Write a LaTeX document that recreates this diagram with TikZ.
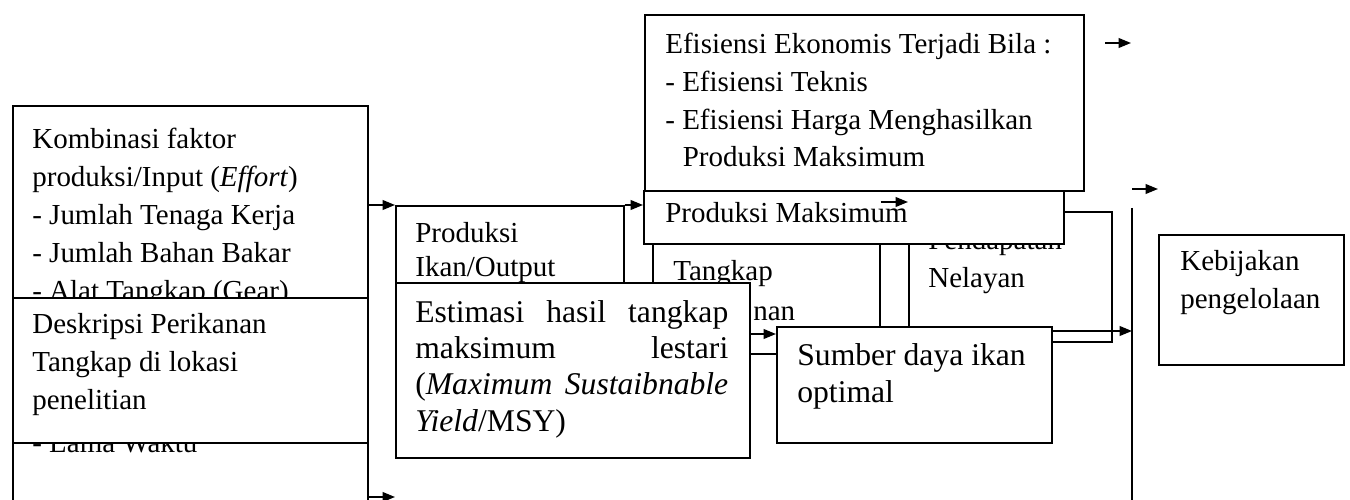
\documentclass[tikz,border=0pt]{standalone}
\usepackage{fontspec}
\setmainfont{Liberation Serif}
\usetikzlibrary{calc}
\usetikzlibrary{arrows.meta}
\tikzset{
	>={Triangle[length=7pt,width=5.5pt]},
	kotak/.style={
		rectangle,
		draw=black, line width=0.9pt,
		fill=white,
		inner sep=0pt,
		anchor=north west},
	teks/.style={
		anchor=base west,
		align=left,
		inner sep=0pt,
		font=\fontsize{16.5}{21.6}\selectfont},
	teksbesar/.style={
		teks,
		font=\fontsize{18}{20.7}\selectfont},
	panah/.style={draw, line width=0.9pt, ->},
	garis/.style={draw, line width=0.9pt},
}
\begin{document}
\begin{tikzpicture}
	[x=0.02cm, y=-0.02cm]
	\useasboundingbox (0,0) rectangle (1350,500);
	\clip (0,0) rectangle (1350,500);
	
	% kolom kiri (teks ditempatkan pada garis dasar baris terakhir)
	\node[kotak, minimum width=7.1cm, minimum height=8.6cm] (A) at (12,105) {};
	\node[teks] (tA) at ($(A.north west)+(20,347)$) {Kombinasi faktor\\produksi/Input (\textit{Effort})\\- Jumlah Tenaga Kerja\\- Jumlah Bahan Bakar\\- Alat Tangkap (Gear)\\[64.8pt]- Lama Waktu};
	\node[kotak, minimum width=7.1cm, minimum height=2.9cm] (B) at (12,297) {};
	\node[teks] (tB) at ($(B.north west)+(20,112)$) {Deskripsi Perikanan\\Tangkap di lokasi\\penelitian};
	
	\coordinate (ujungBawah) at (395,497);
	\draw[panah] (A.east |- ujungBawah) -- (ujungBawah);
	
	% kolom tengah
	\node[kotak, minimum width=4.56cm, minimum height=2cm] (C) at (395,205) {};
	\node[teks, font=\fontsize{16.5}{19.3}\selectfont] (tC) at ($(C.north west)+(20,71)$) {Produksi\\Ikan/Output};
	\draw[panah] (A.east |- C.north west) -- (C.north west);
	
	\node[kotak, minimum width=4.54cm, minimum height=2.84cm] (E) at (652,211) {};
	\node[teks] (tE) at ($(E.north west)+(21,69)$) {Tangkap};
	\node[teks] (tE2) at ($(E.north west)+(101,109)$) {nan};
	\node[kotak, minimum width=4.06cm, minimum height=2.6cm] (F) at (908,211) {};
	\node[teks] (tF) at ($(F.north west)+(20,76)$) {Pendapatan\\Nelayan};
	
	\node[kotak, minimum width=8.4cm, minimum height=1.06cm] (G) at (643,190) {};
	\node[teks] (tG) at ($(G.north west)+(22,32)$) {Produksi Maksimum};
	\node[kotak, minimum width=8.78cm, minimum height=3.52cm] (H) at (644,14) {};
	\node[teks] (tH) at ($(H.north west)+(21,153)$) {Efisiensi Ekonomis Terjadi Bila :\\- Efisiensi Teknis\\- Efisiensi Harga Menghasilkan\\\hspace*{0.6em}Produksi Maksimum};
	
	\draw[panah] (C.north east) -- (C.north east -| G.west);
	\draw[panah] ($(E.north east)+(0,-9)$) -- ($(F.north west)+(0,-9)$);
	
	% teks rata kiri-kanan: garis dasar baris pertama
	\node[kotak, minimum width=7.08cm, minimum height=3.5cm] (D) at (395,282) {};
	\node[teksbesar, text width=6.26cm] (tD) at ($(D.north west)+(20,40)$) {Estimasi\hfill hasil\hfill tangkap\\maksimum\hfill lestari\\(\textit{Maximum}\hfill\textit{Sustaibnable}\\\textit{Yield}/MSY)};
	
	\node[kotak, minimum width=5.5cm, minimum height=2.32cm] (I) at (776,326) {};
	\node[teksbesar] (tI) at ($(I.north west)+(21,76)$) {Sumber daya ikan\\optimal};
	
	\coordinate (masukI) at ($(I.north west)+(0,8)$);
	\draw[panah] (D.east |- masukI) -- (masukI);
	
	% kolom kanan
	\coordinate (garisAtas) at (1132,208);
	\coordinate (garisBawah) at (1132,510);
	\draw[garis] (garisAtas) -- (garisBawah);
	\coordinate (keluarI) at ($(I.north east)+(0,5)$);
	\draw[panah] (keluarI) -- (keluarI -| garisAtas);
	
	\coordinate (p1a) at (1105,43);
	\coordinate (p1b) at (1131,43);
	\draw[panah] (p1a) -- (p1b);
	\coordinate (p2a) at (1132,189);
	\coordinate (p2b) at (1158,189);
	\draw[panah] (p2a) -- (p2b);
	
	\node[kotak, minimum width=3.7cm, minimum height=2.6cm] (J) at (1158,234) {};
	\node[teks] (tJ) at ($(J.north west)+(22,74)$) {Kebijakan\\pengelolaan};
	
\end{tikzpicture}
\end{document}
